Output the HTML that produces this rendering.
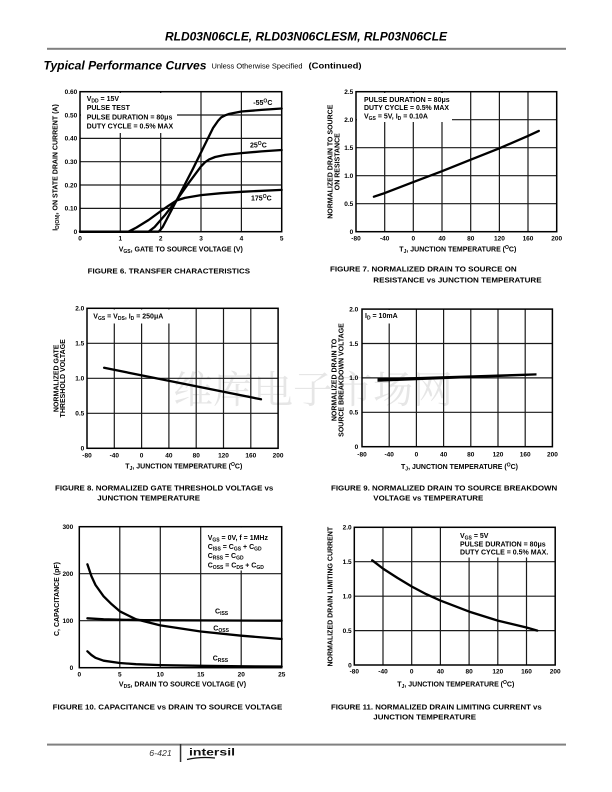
<!DOCTYPE html>
<html><head><meta charset="utf-8"><style>
html,body{margin:0;padding:0;background:#fff;}
svg{display:block;}
.t{font-family:"Liberation Sans",Arial,sans-serif;font-weight:bold;font-size:6.5px;fill:#000;}
.a{font-family:"Liberation Sans",Arial,sans-serif;font-weight:bold;font-size:7px;fill:#000;}
.c{font-family:"Liberation Sans",Arial,sans-serif;font-weight:bold;font-size:7.5px;fill:#000;}
.g{stroke:#1a1a1a;stroke-width:1.2;fill:none;}
.f{stroke:#000;stroke-width:1.5;fill:none;}
.k{stroke:#000;stroke-width:2.3;fill:none;stroke-linejoin:round;stroke-linecap:round;}
</style></head><body>
<svg width="612" height="792" viewBox="0 0 612 792" xmlns="http://www.w3.org/2000/svg">
<rect width="612" height="792" fill="#fff"/>

<!-- watermark -->
<text x="173" y="403" font-family="'Noto Serif CJK SC','Noto Sans CJK SC',serif" font-size="38" fill="#e6e6e6" textLength="280" lengthAdjust="spacingAndGlyphs">维库电子市场网</text>

<!-- header -->
<text x="306" y="40.3" text-anchor="middle" font-family="'Liberation Sans',Arial,sans-serif" font-weight="bold" font-style="italic" font-size="12" textLength="282" lengthAdjust="spacingAndGlyphs">RLD03N06CLE, RLD03N06CLESM, RLP03N06CLE</text>
<rect x="47" y="47.8" width="519" height="2" fill="#808080"/>
<text x="43.5" y="69.5" font-family="'Liberation Sans',Arial,sans-serif" font-weight="bold" font-style="italic" font-size="12" textLength="163" lengthAdjust="spacingAndGlyphs">Typical Performance Curves</text>
<text x="211.5" y="68.5" font-family="'Liberation Sans',Arial,sans-serif" font-size="7.5" textLength="91" lengthAdjust="spacingAndGlyphs">Unless Otherwise Specified</text>
<text x="308.5" y="68.5" font-family="'Liberation Sans',Arial,sans-serif" font-weight="bold" font-size="8" textLength="53" lengthAdjust="spacingAndGlyphs">(Continued)</text>

<!-- ================= FIGURE 6 ================= -->
<g class="g">
<line x1="120.3" y1="92" x2="120.3" y2="231.7"/><line x1="160.7" y1="92" x2="160.7" y2="231.7"/>
<line x1="201" y1="92" x2="201" y2="231.7"/><line x1="241.4" y1="92" x2="241.4" y2="231.7"/>
<line x1="80" y1="208.4" x2="281.7" y2="208.4"/><line x1="80" y1="185" x2="281.7" y2="185"/>
<line x1="80" y1="161.7" x2="281.7" y2="161.7"/><line x1="80" y1="138.4" x2="281.7" y2="138.4"/>
<line x1="80" y1="115" x2="281.7" y2="115"/>
</g>
<rect x="81" y="93" width="96" height="40" fill="#fff"/>
<rect class="f" x="80" y="91.7" width="201.7" height="140"/>
<polyline class="k" points="80,231.7 158.7,231.7 162.7,227 176.8,200 193,168.7 209.1,136 213.1,127.9 218,120.9 221.2,117.4 225.2,115.3 229.3,113.9 241.4,111.5 261.5,109.9 281.7,108.5"/>
<polyline class="k" points="80,231.7 148.6,231.7 154.6,227 164.7,215.4 176.8,200 188.9,182.7 201,166.4 205.1,162.2 209.1,159.4 215.1,157 225.2,154.9 241.4,153.1 261.5,151.4 281.7,150"/>
<polyline class="k" points="80,231.7 128.4,231.7 136.5,227.5 148.6,220 160.7,211.2 168.7,205.6 176.8,200.4 184.9,197.9 201,195.1 221.2,193.2 241.4,191.8 281.7,189.9"/>
<text class="a" x="86.7" y="100.8">V<tspan font-size="5" dy="1.5">DD</tspan><tspan dy="-1.5"> = 15V</tspan></text>
<text class="a" x="86.7" y="110.1">PULSE TEST</text>
<text class="a" x="86.7" y="119.4">PULSE DURATION = 80μs</text>
<text class="a" x="86.7" y="128.7" textLength="86.5" lengthAdjust="spacingAndGlyphs">DUTY CYCLE = 0.5% MAX</text>
<text class="a" x="253.3" y="105">-55<tspan font-size="5" dy="-2.5">O</tspan><tspan dy="2.5">C</tspan></text>
<text class="a" x="250" y="147.3">25<tspan font-size="5" dy="-2.5">O</tspan><tspan dy="2.5">C</tspan></text>
<text class="a" x="251" y="200.6">175<tspan font-size="5" dy="-2.5">O</tspan><tspan dy="2.5">C</tspan></text>
<g class="t" text-anchor="end">
<text x="77.3" y="94">0.60</text><text x="77.3" y="117.3">0.50</text><text x="77.3" y="140.7">0.40</text>
<text x="77.3" y="164">0.30</text><text x="77.3" y="187.3">0.20</text><text x="77.3" y="210.7">0.10</text><text x="77.3" y="234">0</text>
</g>
<g class="t" text-anchor="middle">
<text x="80" y="240.6">0</text><text x="120.3" y="240.6">1</text><text x="160.7" y="240.6">2</text>
<text x="201" y="240.6">3</text><text x="241.4" y="240.6">4</text><text x="281.7" y="240.6">5</text>
</g>
<text class="a" x="180.8" y="251.3" text-anchor="middle">V<tspan font-size="5" dy="1.5">GS</tspan><tspan dy="-1.5">, GATE TO SOURCE VOLTAGE (V)</tspan></text>
<text class="a" transform="translate(55,167.5) rotate(-90)" y="2.4" text-anchor="middle">I<tspan font-size="5" dy="1.5">D(ON)</tspan><tspan dy="-1.5">, ON STATE DRAIN CURRENT (A)</tspan></text>
<text class="c" x="87.7" y="273.4" textLength="162.3" lengthAdjust="spacingAndGlyphs">FIGURE 6.  TRANSFER CHARACTERISTICS</text>

<!-- ================= FIGURE 7 ================= -->
<g class="g">
<line x1="384.7" y1="92" x2="384.7" y2="231.7"/><line x1="413.3" y1="92" x2="413.3" y2="231.7"/>
<line x1="442" y1="92" x2="442" y2="231.7"/><line x1="470.7" y1="92" x2="470.7" y2="231.7"/>
<line x1="499.4" y1="92" x2="499.4" y2="231.7"/><line x1="528" y1="92" x2="528" y2="231.7"/>
<line x1="356" y1="203.7" x2="556.7" y2="203.7"/><line x1="356" y1="175.7" x2="556.7" y2="175.7"/>
<line x1="356" y1="147.7" x2="556.7" y2="147.7"/><line x1="356" y1="119.7" x2="556.7" y2="119.7"/>
</g>
<rect x="357" y="93" width="95" height="29" fill="#fff"/>
<rect class="f" x="356" y="91.7" width="200.7" height="140"/>
<polyline class="k" points="373.9,196.7 384.7,193.1 413.3,182.1 442,171.2 470.7,159.7 499.4,148.3 528,135.9 538.8,130.9"/>
<text class="a" x="364" y="101.8">PULSE DURATION = 80μs</text>
<text class="a" x="364" y="110.2" textLength="85" lengthAdjust="spacingAndGlyphs">DUTY CYCLE = 0.5% MAX</text>
<text class="a" x="364" y="118.6">V<tspan font-size="5" dy="1.5">GS</tspan><tspan dy="-1.5"> = 5V, I</tspan><tspan font-size="5" dy="1.5">D</tspan><tspan dy="-1.5"> = 0.10A</tspan></text>
<g class="t" text-anchor="end">
<text x="353.3" y="94">2.5</text><text x="353.3" y="122">2.0</text><text x="353.3" y="150">1.5</text>
<text x="353.3" y="178">1.0</text><text x="353.3" y="206">0.5</text><text x="353.3" y="234">0</text>
</g>
<g class="t" text-anchor="middle">
<text x="356" y="240.6">-80</text><text x="384.7" y="240.6">-40</text><text x="413.3" y="240.6">0</text>
<text x="442" y="240.6">40</text><text x="470.7" y="240.6">80</text><text x="499.4" y="240.6">120</text>
<text x="528" y="240.6">160</text><text x="556.7" y="240.6">200</text>
</g>
<text class="a" x="457.8" y="251.3" text-anchor="middle">T<tspan font-size="5" dy="1.5">J</tspan><tspan dy="-1.5">, JUNCTION TEMPERATURE (</tspan><tspan font-size="5" dy="-2.5">O</tspan><tspan dy="2.5">C)</tspan></text>
<text class="a" transform="translate(330,161.7) rotate(-90)" y="2.4" text-anchor="middle">NORMALIZED DRAIN TO SOURCE</text>
<text class="a" transform="translate(337,161.7) rotate(-90)" y="2.4" text-anchor="middle">ON RESISTANCE</text>
<text class="c" x="330" y="271.7" textLength="186.7" lengthAdjust="spacingAndGlyphs">FIGURE 7.  NORMALIZED DRAIN TO SOURCE ON</text>
<text class="c" x="373.3" y="282.7" textLength="168.3" lengthAdjust="spacingAndGlyphs">RESISTANCE vs JUNCTION TEMPERATURE</text>

<!-- ================= FIGURE 8 ================= -->
<g class="g">
<line x1="114.3" y1="308.5" x2="114.3" y2="448.3"/><line x1="141.6" y1="308.5" x2="141.6" y2="448.3"/>
<line x1="168.9" y1="308.5" x2="168.9" y2="448.3"/><line x1="196.2" y1="308.5" x2="196.2" y2="448.3"/>
<line x1="223.5" y1="308.5" x2="223.5" y2="448.3"/><line x1="250.8" y1="308.5" x2="250.8" y2="448.3"/>
<line x1="87" y1="413.3" x2="278.1" y2="413.3"/><line x1="87" y1="378.3" x2="278.1" y2="378.3"/>
<line x1="87" y1="343.3" x2="278.1" y2="343.3"/>
</g>
<rect x="88" y="309.5" width="84" height="14" fill="#fff"/>
<rect class="f" x="87" y="308.3" width="191.1" height="140"/>
<line class="k" x1="104.1" y1="367.8" x2="261" y2="399.3"/>
<text class="a" x="93.3" y="318.3">V<tspan font-size="5" dy="1.5">GS</tspan><tspan dy="-1.5"> = V</tspan><tspan font-size="5" dy="1.5">DS</tspan><tspan dy="-1.5">,  I</tspan><tspan font-size="5" dy="1.5">D</tspan><tspan dy="-1.5"> = 250μA</tspan></text>
<g class="t" text-anchor="end">
<text x="84.3" y="310.6">2.0</text><text x="84.3" y="345.6">1.5</text><text x="84.3" y="380.6">1.0</text>
<text x="84.3" y="415.6">0.5</text><text x="84.3" y="450.6">0</text>
</g>
<g class="t" text-anchor="middle">
<text x="87" y="457.3">-80</text><text x="114.3" y="457.3">-40</text><text x="141.6" y="457.3">0</text>
<text x="168.9" y="457.3">40</text><text x="196.2" y="457.3">80</text><text x="223.5" y="457.3">120</text>
<text x="250.8" y="457.3">160</text><text x="278.1" y="457.3">200</text>
</g>
<text class="a" x="183.8" y="468.3" text-anchor="middle">T<tspan font-size="5" dy="1.5">J</tspan><tspan dy="-1.5">, JUNCTION TEMPERATURE (</tspan><tspan font-size="5" dy="-2.5">O</tspan><tspan dy="2.5">C)</tspan></text>
<text class="a" transform="translate(56,378.3) rotate(-90)" y="2.4" text-anchor="middle">NORMALIZED GATE</text>
<text class="a" transform="translate(62.8,378.3) rotate(-90)" y="2.4" text-anchor="middle">THRESHOLD VOLTAGE</text>
<text class="c" x="55" y="490.7" textLength="218.3" lengthAdjust="spacingAndGlyphs">FIGURE 8.  NORMALIZED GATE THRESHOLD VOLTAGE vs</text>
<text class="c" x="97.3" y="500.7" textLength="102.7" lengthAdjust="spacingAndGlyphs">JUNCTION TEMPERATURE</text>

<!-- ================= FIGURE 9 ================= -->
<g class="g">
<line x1="389.2" y1="309.2" x2="389.2" y2="446.7"/><line x1="416.4" y1="309.2" x2="416.4" y2="446.7"/>
<line x1="443.6" y1="309.2" x2="443.6" y2="446.7"/><line x1="470.8" y1="309.2" x2="470.8" y2="446.7"/>
<line x1="498" y1="309.2" x2="498" y2="446.7"/><line x1="525.2" y1="309.2" x2="525.2" y2="446.7"/>
<line x1="362" y1="412.3" x2="552.4" y2="412.3"/><line x1="362" y1="377.9" x2="552.4" y2="377.9"/>
<line x1="362" y1="343.5" x2="552.4" y2="343.5"/>
</g>
<rect x="363" y="310" width="38" height="13.5" fill="#fff"/>
<rect class="f" x="362" y="309.1" width="190.4" height="137.6"/>
<polygon points="377.5,378.2 536.5,373.2 536.5,375.5 377.5,381.8" fill="#000"/>
<text class="a" x="365" y="318">I<tspan font-size="5" dy="1.5">D</tspan><tspan dy="-1.5"> = 10mA</tspan></text>
<g class="t" text-anchor="end">
<text x="358.3" y="311.4">2.0</text><text x="358.3" y="345.8">1.5</text><text x="358.3" y="380.2">1.0</text>
<text x="358.3" y="414.6">0.5</text><text x="358.3" y="449">0</text>
</g>
<g class="t" text-anchor="middle">
<text x="362" y="456.3">-80</text><text x="389.2" y="456.3">-40</text><text x="416.4" y="456.3">0</text>
<text x="443.6" y="456.3">40</text><text x="470.8" y="456.3">80</text><text x="498" y="456.3">120</text>
<text x="525.2" y="456.3">160</text><text x="552.4" y="456.3">200</text>
</g>
<text class="a" x="459.5" y="469" text-anchor="middle">T<tspan font-size="5" dy="1.5">J</tspan><tspan dy="-1.5">, JUNCTION TEMPERATURE (</tspan><tspan font-size="5" dy="-2.5">O</tspan><tspan dy="2.5">C)</tspan></text>
<text class="a" transform="translate(334.3,380) rotate(-90)" y="2.4" text-anchor="middle">NORMALIZED DRAIN TO</text>
<text class="a" transform="translate(341,380) rotate(-90)" y="2.4" text-anchor="middle">SOURCE BREAKDOWN VOLTAGE</text>
<text class="c" x="331" y="490.4" textLength="226.3" lengthAdjust="spacingAndGlyphs">FIGURE 9.  NORMALIZED DRAIN TO SOURCE BREAKDOWN</text>
<text class="c" x="373.3" y="500.4" textLength="110" lengthAdjust="spacingAndGlyphs">VOLTAGE vs TEMPERATURE</text>

<!-- ================= FIGURE 10 ================= -->
<g class="g">
<line x1="119.8" y1="527" x2="119.8" y2="667.7"/><line x1="160.3" y1="527" x2="160.3" y2="667.7"/>
<line x1="200.7" y1="527" x2="200.7" y2="667.7"/><line x1="241.2" y1="527" x2="241.2" y2="667.7"/>
<line x1="79.3" y1="620.7" x2="281.7" y2="620.7"/><line x1="79.3" y1="573.7" x2="281.7" y2="573.7"/>
</g>
<rect x="205" y="527.5" width="75.5" height="43" fill="#fff"/>
<rect class="f" x="79.3" y="526.7" width="202.4" height="141"/>
<polyline class="k" points="87.4,618.3 103.6,619.3 144.1,620.2 281.7,620.7"/>
<polyline class="k" points="87.4,564.3 91.4,576.1 95.5,585 103.6,596.3 111.7,604.3 119.8,611.3 136,619.3 160.3,625.4 200.7,631.5 241.2,635.7 281.7,639"/>
<polyline class="k" points="87.4,651.3 91.4,655 95.5,657.8 103.6,660.7 119.8,663 136,664.2 160.3,665.1 200.7,665.8 241.2,666.3 281.7,666.5"/>
<text class="a" x="207.7" y="540">V<tspan font-size="5" dy="1.5">GS</tspan><tspan dy="-1.5"> = 0V, f = 1MHz</tspan></text>
<text class="a" x="207.7" y="549">C<tspan font-size="5" dy="1.5">ISS</tspan><tspan dy="-1.5"> = C</tspan><tspan font-size="5" dy="1.5">GS</tspan><tspan dy="-1.5"> + C</tspan><tspan font-size="5" dy="1.5">GD</tspan></text>
<text class="a" x="207.7" y="558">C<tspan font-size="5" dy="1.5">RSS</tspan><tspan dy="-1.5"> = C</tspan><tspan font-size="5" dy="1.5">GD</tspan></text>
<text class="a" x="207.7" y="567.3">C<tspan font-size="5" dy="1.5">OSS</tspan><tspan dy="-1.5"> = C</tspan><tspan font-size="5" dy="1.5">DS</tspan><tspan dy="-1.5"> + C</tspan><tspan font-size="5" dy="1.5">GD</tspan></text>
<text class="a" x="215" y="613.3">C<tspan font-size="5" dy="1.5">ISS</tspan></text>
<text class="a" x="213.3" y="630.6">C<tspan font-size="5" dy="1.5">OSS</tspan></text>
<text class="a" x="212.7" y="660.6">C<tspan font-size="5" dy="1.5">RSS</tspan></text>
<g class="t" text-anchor="end">
<text x="73.3" y="529">300</text><text x="73.3" y="576">200</text><text x="73.3" y="623">100</text><text x="73.3" y="670">0</text>
</g>
<g class="t" text-anchor="middle">
<text x="79.3" y="676.6">0</text><text x="119.8" y="676.6">5</text><text x="160.3" y="676.6">10</text>
<text x="200.7" y="676.6">15</text><text x="241.2" y="676.6">20</text><text x="281.7" y="676.6">25</text>
</g>
<text class="a" x="182.5" y="686.6" text-anchor="middle">V<tspan font-size="5" dy="1.5">DS</tspan><tspan dy="-1.5">, DRAIN TO SOURCE VOLTAGE (V)</tspan></text>
<text class="a" transform="translate(56.7,599) rotate(-90)" y="2.4" text-anchor="middle">C, CAPACITANCE (pF)</text>
<text class="c" x="52.7" y="709.4" textLength="229.6" lengthAdjust="spacingAndGlyphs">FIGURE 10.  CAPACITANCE vs DRAIN TO SOURCE VOLTAGE</text>

<!-- ================= FIGURE 11 ================= -->
<g class="g">
<line x1="383" y1="527.5" x2="383" y2="665"/><line x1="411.7" y1="527.5" x2="411.7" y2="665"/>
<line x1="440.4" y1="527.5" x2="440.4" y2="665"/><line x1="469.1" y1="527.5" x2="469.1" y2="665"/>
<line x1="497.8" y1="527.5" x2="497.8" y2="665"/><line x1="526.5" y1="527.5" x2="526.5" y2="665"/>
<line x1="354.3" y1="630.6" x2="555.2" y2="630.6"/><line x1="354.3" y1="596.2" x2="555.2" y2="596.2"/>
<line x1="354.3" y1="561.7" x2="555.2" y2="561.7"/>
</g>
<rect x="455" y="528" width="99.5" height="29.5" fill="#fff"/>
<rect class="f" x="354.3" y="527.3" width="200.9" height="137.7"/>
<polyline class="k" points="372.2,560.3 383,568.6 397.4,577.9 411.7,586.5 426.1,594.1 440.4,600.6 469.1,611.6 497.8,620.6 526.5,627.5 537.3,630.6"/>
<text class="a" x="460" y="538">V<tspan font-size="5" dy="1.5">GS</tspan><tspan dy="-1.5"> = 5V</tspan></text>
<text class="a" x="460" y="546.6">PULSE DURATION = 80μs</text>
<text class="a" x="460" y="554.6" textLength="88.3" lengthAdjust="spacingAndGlyphs">DUTY CYCLE = 0.5% MAX.</text>
<g class="t" text-anchor="end">
<text x="351.7" y="529.6">2.0</text><text x="351.7" y="564">1.5</text><text x="351.7" y="598.5">1.0</text>
<text x="351.7" y="632.9">0.5</text><text x="351.7" y="667.3">0</text>
</g>
<g class="t" text-anchor="middle">
<text x="354.3" y="673.3">-80</text><text x="383" y="673.3">-40</text><text x="411.7" y="673.3">0</text>
<text x="440.4" y="673.3">40</text><text x="469.1" y="673.3">80</text><text x="497.8" y="673.3">120</text>
<text x="526.5" y="673.3">160</text><text x="555.2" y="673.3">200</text>
</g>
<text class="a" x="455.8" y="686.6" text-anchor="middle">T<tspan font-size="5" dy="1.5">J</tspan><tspan dy="-1.5">, JUNCTION TEMPERATURE (</tspan><tspan font-size="5" dy="-2.5">O</tspan><tspan dy="2.5">C)</tspan></text>
<text class="a" transform="translate(330,596.7) rotate(-90)" y="2.4" text-anchor="middle">NORMALIZED DRAIN LIMITING CURRENT</text>
<text class="c" x="331" y="709.4" textLength="210.7" lengthAdjust="spacingAndGlyphs">FIGURE 11.  NORMALIZED DRAIN LIMITING CURRENT vs</text>
<text class="c" x="373.3" y="719.4" textLength="102.7" lengthAdjust="spacingAndGlyphs">JUNCTION TEMPERATURE</text>

<!-- footer -->
<rect x="47" y="743.6" width="519" height="2" fill="#808080"/>
<rect x="179.8" y="744" width="1.5" height="18" fill="#333"/>
<text x="149.3" y="756" font-family="'Liberation Sans',Arial,sans-serif" font-style="italic" font-size="8.5" fill="#333" textLength="22.4" lengthAdjust="spacingAndGlyphs">6-421</text>
<text x="189" y="755.7" font-family="'Liberation Sans',Arial,sans-serif" font-weight="bold" font-size="10.5" fill="#111" textLength="46" lengthAdjust="spacingAndGlyphs">intersil</text>
<path d="M187,759.5 Q200,756.5 215,758" stroke="#111" stroke-width="1.2" fill="none"/>
</svg>
</body></html>
